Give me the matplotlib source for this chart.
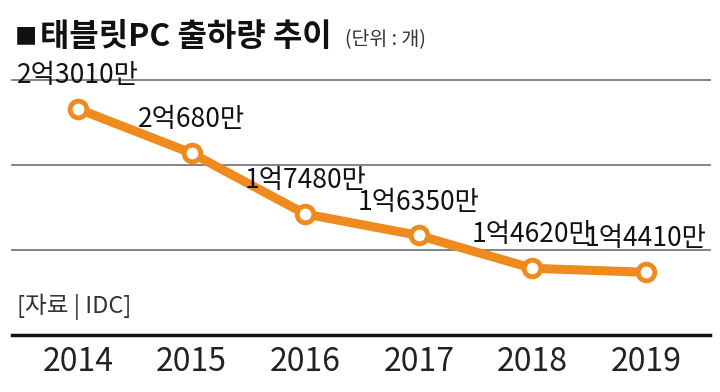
import matplotlib.pyplot as plt

# --- dati ---
years = ['2014', '2015', '2016', '2017', '2018', '2019']
shipments = [23010, 20680, 17480, 16350, 14620, 14410]  # 만 개
labels = ['2억3010만', '2억680만', '1억7480만', '1억6350만', '1억4620만', '1억4410만']
grid_levels = [24530, 20080, 15600]

ORANGE = '#EE8A1E'
FONT = ['Noto Sans CJK KR', 'DejaVu Sans']
plt.rcParams['font.family'] = FONT

fig = plt.figure(figsize=(7.2, 3.92), dpi=100)
ax = fig.add_axes([12 / 720, 1 - 335 / 392, 698 / 720, 255 / 392])

x = list(range(len(years)))
ax.set_xlim(-0.581, 5.564)
ax.set_ylim(11110, 24530)

# linee orizzontali di sfondo
for g in grid_levels:
    ax.axhline(g, color='#7a7a7a', lw=1.3, zorder=1, clip_on=False)

ax.plot(x, shipments, color=ORANGE, lw=6.5, solid_capstyle='round', zorder=3)
ax.plot(x, shipments, 'o', ms=12, mfc='white', mec=ORANGE, mew=3.5, zorder=4)

for xi, v, lab in zip(x, shipments, labels):
    ax.annotate(lab, (xi, v), xytext=(0, 24), textcoords='offset points',
                ha='center', va='center', fontsize=19, color='#111111', zorder=5)

# assi
for s in ['top', 'right', 'left']:
    ax.spines[s].set_visible(False)
ax.spines['bottom'].set_linewidth(2.5)
ax.spines['bottom'].set_color('#111111')
ax.set_yticks([])
ax.set_xticks(x)
ax.set_xticklabels(years, fontsize=23, color='#222222')
ax.tick_params(axis='x', length=0, pad=8)

# titolo e fonte
fig.text(15 / 720, 1 - 37 / 392, '■', fontsize=16, va='center', ha='left', color='#111111')
fig.text(40 / 720, 1 - 37 / 392, '태블릿PC 출하량 추이', fontsize=23, fontweight='bold',
         va='center', ha='left', color='#111111')
fig.text(345 / 720, 1 - 40 / 392, '(단위 : 개)', fontsize=14, va='center', ha='left',
         color='#333333')
fig.text(17 / 720, 1 - 307 / 392, '[자료 | IDC]', fontsize=17, va='center', ha='left',
         color='#333333')

fig.savefig('out.png', dpi=100, facecolor='white')
